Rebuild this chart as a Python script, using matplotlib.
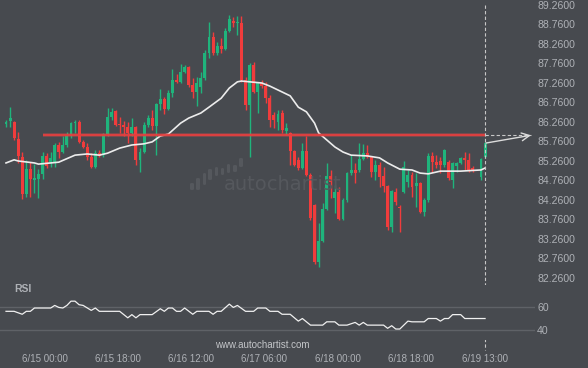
import numpy as np
import matplotlib
matplotlib.use("Agg")
import matplotlib.pyplot as plt
from matplotlib.patches import FancyBboxPatch
import matplotlib.transforms as mtransforms

# ---------------- data ----------------
nan = np.nan
opens = [86.21, 86.28, 86.26, 85.82, 85.36, 84.41, 85.05, 84.77, 84.80, 84.93,
         85.39, 85.24, 85.24, 85.67, 85.49, 85.67, 85.90, 86.23, 86.26, 85.75,
         85.62, 85.36, 85.11, 85.46, 85.41, 85.95, 86.39, 86.54, 86.21, 86.18,
         86.13, 85.97, 86.13, 85.29, 85.49, 86.18, 86.36, 86.16, 86.72, 86.85,
         86.59, 87.00, 87.34, 87.29, 87.54, 87.67, 87.21, 87.03, 87.16, 87.39,
         88.03, 88.44, 88.03, 88.21, 88.13, 88.59, 88.85, 88.79, 88.80, 87.34,
         86.70, 87.72, 87.03, 87.26, 87.18, 86.88, 86.44, 86.26, 86.49, 86.03,
         85.97, 85.52, 85.29, 85.08, 85.52, 84.90, 84.13, 82.67, 83.21, 84.03,
         84.87, 84.31, 84.47, 83.77, 84.26, 84.95, 85.03, 85.03, 85.31, 85.46,
         85.36, 84.98, 85.16, 84.88, 84.62, 83.57, 84.47, 84.08, 84.47, 84.72,
         84.90, 84.62, 84.70, 83.95, 84.26, 85.39, 85.24, 85.26, 85.16, 85.24,
         84.77, 85.13, 85.21, 85.34, 85.29, 85.08, nan, 84.85, 85.36]
highs = [86.31, 86.65, 86.28, 86.00, 85.49, 85.29, 85.24, 85.18, 85.05, 85.49,
         85.46, 85.49, 85.72, 85.75, 85.90, 86.00, 86.26, 86.31, 86.31, 85.80,
         85.72, 85.46, 85.54, 85.54, 85.97, 86.62, 86.62, 86.57, 86.39, 86.28,
         86.26, 86.36, 86.16, 85.59, 86.26, 86.44, 86.57, 86.75, 87.11, 86.90,
         87.08, 87.62, 87.49, 87.75, 87.72, 87.69, 87.39, 87.41, 87.54, 88.11,
         88.82, 88.57, 88.31, 88.41, 88.67, 89.00, 88.95, 88.98, 88.98, 87.41,
         87.77, 87.80, 87.29, 87.34, 87.29, 86.95, 86.52, 86.57, 86.57, 86.23,
         86.00, 85.54, 85.36, 85.72, 85.90, 84.95, 84.16, 83.67, 84.18, 85.21,
         85.03, 84.65, 84.59, 84.31, 84.98, 85.41, 85.21, 85.72, 85.70, 85.67,
         85.39, 85.29, 85.24, 85.11, 84.65, 84.52, 84.57, 84.13, 85.26, 85.03,
         84.98, 84.95, 84.72, 84.31, 85.46, 85.49, 85.41, 85.36, 85.57, 85.29,
         85.24, 85.24, 85.36, 85.49, 85.46, 85.13, nan, 85.34, 85.75]
lows = [86.13, 86.13, 85.80, 85.21, 84.29, 84.34, 84.34, 84.44, 84.31, 84.80,
        85.08, 85.11, 85.11, 85.34, 85.46, 85.62, 85.85, 85.97, 85.72, 85.59,
        85.29, 85.08, 85.08, 85.36, 85.36, 85.90, 86.31, 86.16, 85.97, 85.90,
        85.72, 85.90, 85.16, 84.98, 85.46, 86.13, 86.05, 85.41, 86.57, 86.47,
        86.57, 86.90, 87.26, 87.26, 87.52, 87.16, 86.88, 86.67, 87.00, 87.34,
        87.90, 87.98, 87.98, 88.03, 88.11, 88.57, 88.70, 88.49, 87.29, 86.57,
        85.36, 87.00, 86.49, 87.13, 86.75, 86.13, 86.11, 86.05, 85.97, 85.93,
        85.16, 85.13, 85.03, 85.05, 84.88, 83.75, 82.62, 82.54, 83.18, 84.00,
        84.31, 83.93, 83.75, 83.75, 84.21, 84.90, 84.70, 84.98, 85.29, 85.34,
        84.85, 84.77, 84.59, 84.47, 83.49, 83.44, 84.13, 83.44, 84.44, 84.59,
        84.34, 84.08, 83.93, 83.85, 84.21, 84.98, 85.08, 84.95, 85.11, 84.77,
        84.57, 84.98, 85.19, 85.03, 84.98, 84.98, nan, 84.77, 85.34]
closes = [86.26, 86.36, 85.85, 85.39, 84.41, 85.05, 84.80, 84.83, 84.93, 85.39,
          85.13, 85.34, 85.67, 85.49, 85.67, 85.90, 86.23, 86.26, 85.75, 85.62,
          85.36, 85.11, 85.46, 85.39, 85.95, 86.39, 86.52, 86.18, 86.18, 86.13,
          85.97, 86.13, 85.29, 85.49, 86.18, 86.36, 86.16, 86.72, 86.85, 86.59,
          87.00, 87.34, 87.29, 87.54, 87.67, 87.21, 87.03, 87.26, 87.39, 88.03,
          88.44, 88.03, 88.21, 88.13, 88.59, 88.90, 88.80, 88.80, 87.34, 86.70,
          87.72, 87.03, 87.26, 87.18, 86.88, 86.31, 86.31, 86.47, 86.05, 86.11,
          85.52, 85.16, 85.08, 85.52, 84.90, 83.80, 82.67, 83.21, 84.03, 84.87,
          84.72, 84.47, 83.77, 84.26, 84.95, 85.03, 84.95, 85.31, 85.46, 85.36,
          84.98, 85.16, 84.85, 84.62, 83.57, 84.49, 84.21, 84.05, 85.11, 84.90,
          84.59, 84.70, 83.95, 84.26, 85.39, 85.24, 85.16, 85.16, 85.54, 84.82,
          85.21, 85.21, 85.34, 85.29, 85.00, 85.03, nan, 85.31, 85.72]

ma_idx = [0, 2, 3, 7, 8, 13, 17, 20, 23, 25, 28, 31, 34, 36, 38, 40, 43, 45, 48,
          50, 53, 55, 57, 58, 60, 63, 65, 67, 70, 72, 74, 76, 77, 81, 83, 85, 89,
          92, 94, 97, 100, 102, 104, 107, 112, 117, 118]
ma_val = [85.21, 85.29, 85.26, 85.21, 85.18, 85.23, 85.41, 85.44, 85.41, 85.46,
          85.59, 85.67, 85.70, 85.75, 85.90, 85.95, 86.23, 86.36, 86.49, 86.64,
          86.87, 87.13, 87.29, 87.31, 87.29, 87.26, 87.18, 87.08, 86.93, 86.64,
          86.52, 86.23, 85.98, 85.62, 85.49, 85.41, 85.39, 85.34, 85.21, 85.05,
          85.03, 84.95, 84.93, 85.00, 85.00, 85.03, 85.08]

rsi_idx = [0, 2, 4, 5, 6, 7, 11, 12, 13, 14, 15, 16, 17, 18, 19, 21, 22, 23, 28,
           30, 31, 32, 33, 36, 38, 39, 40, 41, 42, 43, 44, 46, 47, 50, 51, 52, 53,
           55, 56, 57, 59, 61, 62, 64, 65, 67, 68, 70, 72, 73, 75, 78, 79, 81, 82,
           84, 86, 87, 88, 89, 93, 94, 95, 96, 97, 99, 100, 103, 104, 106, 107,
           108, 109, 110, 112, 113, 118]
rsi_val = [56.1, 56.1, 53.6, 56.1, 56.1, 58.9, 58.9, 61.1, 59.4, 58.9, 61.1, 64.7,
           64.7, 61.7, 61.1, 56.9, 58.9, 56.1, 56.1, 50.6, 53.3, 50.6, 53.3, 53.3,
           58.3, 56.1, 58.9, 58.9, 56.1, 56.1, 58.9, 53.6, 56.1, 56.1, 53.6, 56.1,
           56.1, 62.2, 59.4, 61.1, 56.1, 56.1, 58.9, 58.9, 56.1, 56.1, 53.6, 53.6,
           47.8, 50.0, 44.4, 44.4, 47.2, 47.2, 44.4, 44.4, 46.7, 44.4, 46.7, 44.4,
           44.4, 41.7, 43.9, 41.1, 41.1, 47.8, 47.2, 47.2, 50.0, 50.0, 47.8, 50.0,
           50.0, 53.3, 53.3, 50.0, 50.0]

level = 85.92          # resistance line
level_start = 9
projection_end = 129.3
price_ticks = [89.26, 88.76, 88.26, 87.76, 87.26, 86.76, 86.26, 85.76, 85.26,
               84.76, 84.26, 83.76, 83.26, 82.76, 82.26]
rsi_ticks = [40, 60]
time_pos = [9.6, 27.6, 45.6, 63.6, 81.7, 99.8, 118]
time_labels = ["6/15 00:00", "6/15 18:00", "6/16 12:00", "6/17 06:00",
               "6/18 00:00", "6/18 18:00", "6/19 13:00"]

# ---------------- style ----------------
BG = "#474a4f"
UP = "#1fb47c"
DN = "#f03c3c"
TXT = "#aeb1b6"
W, H = 588, 368
plt.rcParams["font.family"] = ["Liberation Sans", "DejaVu Sans"]

fig = plt.figure(figsize=(W / 100, H / 100), dpi=100, facecolor=BG)

ax = fig.add_axes([0, 1 - 285 / H, 535 / W, 285 / H])
axr = fig.add_axes([0, 1 - 340 / H, 535 / W, 55 / H])
xlim = (-1.48, 130.3)
for a in (ax, axr):
    a.set_facecolor(BG)
    a.set_xlim(*xlim)
    for s in a.spines.values():
        s.set_visible(False)
ax.set_ylim(89.388 - 285 / 39, 89.388)
axr.set_ylim(31.8, 78.4)

# watermark
for (x0, x1, y0, y1) in [(190, 194, 183, 190), (196, 200, 178, 190), (203, 206, 173, 185),
                         (208, 212, 169, 180), (215, 218, 167, 176), (221, 224, 168, 175),
                         (227, 230, 164, 173), (233, 237, 165, 172), (239, 243, 158, 167)]:
    fig.patches.append(FancyBboxPatch((x0 / W, 1 - y1 / H), (x1 - x0) / W, (y1 - y0) / H,
                                      boxstyle="round,pad=0,rounding_size=0.003",
                                      transform=fig.transFigure, facecolor="#55585d",
                                      edgecolor="none", zorder=0))
fig.text(224 / W, 1 - 190 / H, "autochartist", family="DejaVu Sans", fontsize=14,
         color="#55585d", ha="left", va="baseline", zorder=0)

# candles
o = np.array(opens); h = np.array(highs); l = np.array(lows); c = np.array(closes)
idx = np.arange(len(o))
ok = ~np.isnan(o)
up = ok & (c >= o)
dn = ok & (c < o)
for mask, col in ((up, UP), (dn, DN)):
    ax.vlines(idx[mask], l[mask], h[mask], color=col, lw=1, zorder=3)
    bottom = np.minimum(o[mask], c[mask])
    height = np.maximum(np.abs(c[mask] - o[mask]), 0.03)
    ax.bar(idx[mask], height, bottom=bottom, width=0.72, color=col, lw=0, zorder=3)

# moving average
ax.plot(ma_idx, ma_val, color="#ececec", lw=1.2, zorder=4)

# resistance line
ax.hlines(level, level_start, len(o) - 1, color="#e8494a", lw=2.8, alpha=0.35, zorder=5)
ax.hlines(level, level_start, len(o) - 1, color="#e4403f", lw=1.3, zorder=5)
ax.plot([len(o) - 1, projection_end], [level, level], color="#c8c8c8", lw=0.8,
        dashes=(3, 2), clip_on=False, zorder=5)
ax.annotate("", xy=(projection_end, level), xytext=(len(o) - 0.8, closes[-1]),
            arrowprops=dict(arrowstyle="->", color="#dcdcdc", lw=1.0, mutation_scale=14,
                            shrinkA=0, shrinkB=0), annotation_clip=False, zorder=6)

# vertical dashed line at last candle
trans = mtransforms.blended_transform_factory(ax.transData, fig.transFigure)
ax.plot([len(o) - 1, len(o) - 1], [1 - 5 / H, 1 - 350 / H], transform=trans,
        color="#c8c8c8", lw=0.8, dashes=(3, 2), clip_on=False, zorder=6)

# price axis
ax.yaxis.tick_right()
ax.set_yticks(price_ticks)
ax.set_yticklabels([f"{p:.4f}" for p in price_ticks])
ax.tick_params(axis="y", length=0, pad=1.5, labelsize=7.6, labelcolor=TXT)
ax.set_xticks([])

# RSI
axr.axhline(60, color="#5f6267", lw=1, zorder=1)
axr.axhline(40, color="#5f6267", lw=1, zorder=1)
axr.plot(rsi_idx, rsi_val, color="#f0f0f0", lw=0.9, zorder=3)
axr.yaxis.tick_right()
axr.set_yticks(rsi_ticks)
axr.set_yticklabels([str(v) for v in rsi_ticks])
axr.tick_params(axis="y", length=0, pad=1.5, labelsize=7.6, labelcolor=TXT)
axr.set_xticks(time_pos)
axr.set_xticklabels(time_labels)
axr.tick_params(axis="x", length=0, pad=10, labelsize=7, labelcolor=TXT)
axr.text(0.026, 1.02, "RSI", transform=axr.transAxes, fontsize=7.5, fontweight="bold",
         color=TXT, ha="left", va="top")

fig.text(262 / W, 1 - 345 / H, "www.autochartist.com", fontsize=7, color="#c4c6c9",
         ha="center", va="center")

fig.savefig("out.png", dpi=100, facecolor=BG)
